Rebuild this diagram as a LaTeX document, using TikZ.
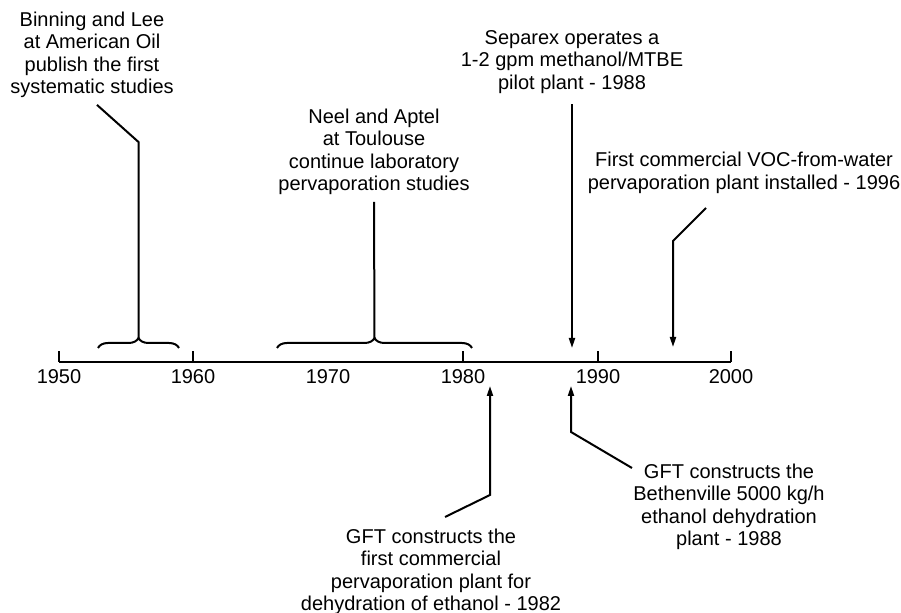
\documentclass[tikz,border=0pt]{standalone}
\usepackage{fontspec}
\setmainfont{Liberation Sans}
\usetikzlibrary{arrows.meta, positioning, decorations.pathreplacing, calc}

\begin{document}
\begin{tikzpicture}[
    x=0.5pt, y=-0.5pt,
    line width=1pt,
    event/.style={align=center, font=\fontsize{10}{11.2}\selectfont, inner sep=3pt},
    yearlabel/.style={font=\fontsize{10}{12}\selectfont, inner sep=1pt},
    period/.style={decorate, decoration={brace, amplitude=5pt}},
    pointer/.style={-{Triangle[length=5pt, width=3pt]}}
]
    \useasboundingbox (0,0) rectangle (901,613);

    % time axis
    \draw (59,362) -- (731,362);
    \foreach \px in {59, 193, 463, 598, 731}
        \draw (\px,362) -- (\px,351);
    \foreach \yr/\px in {1950/59, 1960/193, 1970/328, 1980/463, 1990/598, 2000/731}
        \node[yearlabel] (y\yr) at (\px,377) {\yr};

    % periods
    \draw[period] (98,348) -- (179,348);
    \draw[period] (277,348) -- (472,348);
    \coordinate (tipA) at (138.5,338);
    \coordinate (tipB) at (374.5,338);

    % events
    \node[event] (binning) at (92,55) {Binning and Lee\\at American Oil\\publish the first\\systematic studies};
    \node[event] (neel) at (374,152) {Neel and Aptel\\at Toulouse\\continue laboratory\\pervaporation studies};
    \node[event] (separex) at (572,62) {Separex operates a\\1-2 gpm methanol/MTBE\\pilot plant - 1988};
    \node[event] (voc) at (744,173) {First commercial VOC-from-water\\pervaporation plant installed - 1996};
    \node[event] (gftA) at (431,572) {GFT constructs the\\first commercial\\pervaporation plant for\\dehydration of ethanol - 1982};
    \node[event] (gftB) at (729,507) {GFT constructs the\\Bethenville 5000 kg/h\\ethanol dehydration\\plant - 1988};

    % bends and ends of the pointers
    \coordinate (kneeA) at (138.5,142);
    \coordinate (top1988) at (572,348);
    \coordinate (footD) at (706,208);
    \coordinate (kneeD) at (673,241);
    \coordinate (top1996) at (673,347);
    \coordinate (footE) at (445,517);
    \coordinate (kneeE) at (490,495);
    \coordinate (low1982) at (490,386);
    \coordinate (footF) at (632,468);
    \coordinate (kneeF) at (571,432);
    \coordinate (low1988) at (571,386);

    \draw (binning.south) ++(5,0) -- (kneeA) -- (tipA);
    \draw (neel.south) -- (tipB);
    \draw[pointer, shorten <=2pt] (separex.south) -- (top1988);
    \draw[pointer] (footD) -- (kneeD) -- (top1996);
    \draw[pointer] (footE) -- (kneeE) -- (low1982);
    \draw[pointer] (footF) -- (kneeF) -- (low1988);
\end{tikzpicture}
\end{document}
